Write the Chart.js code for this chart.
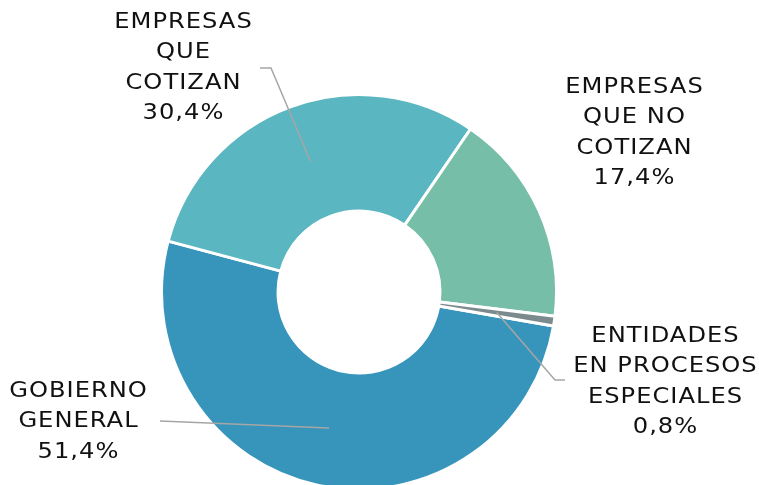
<!DOCTYPE html>
<html>
<head>
<meta charset="utf-8">
<script src="https://cdn.jsdelivr.net/npm/chart.js@4/dist/chart.umd.min.js"></script>
<style>
  html, body { margin: 0; padding: 0; background: #fff; overflow: hidden; }
  #wrap { position: relative; width: 759px; height: 491px; }
</style>
</head>
<body>
<div id="wrap"><canvas id="chart"></canvas></div>
<script>
// Data
const categories = ['GOBIERNO GENERAL', 'EMPRESAS QUE COTIZAN', 'EMPRESAS QUE NO COTIZAN', 'ENTIDADES EN PROCESOS ESPECIALES'];
const shares = [51.4, 30.4, 17.4, 0.8];
const labelLines = [
    ['GOBIERNO', 'GENERAL', '51,4%'],
    ['EMPRESAS', 'QUE', 'COTIZAN', '30,4%'],
    ['EMPRESAS', 'QUE NO', 'COTIZAN', '17,4%'],
    ['ENTIDADES', 'EN PROCESOS', 'ESPECIALES', '0,8%']
];
const colors = ['#3795bb', '#5ab6c0', '#76bea7', '#7b8b8d'];

// Label layout: text centre and leader line elbow (null = no leader line)
const labelLayout = [
    { x: 78, y: 391, line: [[160, 421]] },
    { x: 183, y: 22, line: [[260, 68], [271, 68]] },
    { x: 634, y: 87, line: null },
    { x: 665, y: 336, line: [[565, 380], [555, 380]] }
];

const FONT = '22px "DejaVu Sans"';
const LINE_H = 30.5;
const STRETCH = 1.1;

const outsideLabels = {
    id: 'outsideLabels',
    afterDraw(chart) {
        const ctx = chart.ctx;
        const arcs = chart.getDatasetMeta(0).data;
        ctx.save();
        // leader lines
        ctx.strokeStyle = '#a6a6a6';
        ctx.lineWidth = 1.5;
        arcs.forEach((arc, i) => {
            const lay = labelLayout[i];
            if (!lay.line) return;
            const p = arc.tooltipPosition();
            ctx.beginPath();
            ctx.moveTo(lay.line[0][0], lay.line[0][1]);
            for (let k = 1; k < lay.line.length; k++) ctx.lineTo(lay.line[k][0], lay.line[k][1]);
            ctx.lineTo(p.x, p.y);
            ctx.stroke();
        });
        // text, slightly widened to get closer to the original's wide face
        ctx.fillStyle = '#111';
        ctx.font = FONT;
        ctx.letterSpacing = '0.9px';
        ctx.textAlign = 'center';
        ctx.textBaseline = 'middle';
        labelLines.forEach((lines, i) => {
            const lay = labelLayout[i];
            lines.forEach((t, k) => {
                ctx.save();
                ctx.translate(lay.x + 0.5, lay.y + k * LINE_H);
                ctx.scale(STRETCH, 1);
                ctx.fillText(t, 0, 0);
                ctx.restore();
            });
        });
        ctx.restore();
    }
};

const ctx = document.getElementById('chart').getContext('2d');
const chart = new Chart(ctx, {
    type: 'doughnut',
    data: {
        labels: categories,
        datasets: [{
            data: shares,
            backgroundColor: colors,
            borderColor: '#ffffff',
            borderWidth: 3
        }]
    },
    options: {
        responsive: true,
        maintainAspectRatio: false,
        animation: false,
        rotation: 99.9,
        cutout: '41%',
        layout: { padding: { left: 160, right: 201, top: 93, bottom: 0 } },
        plugins: {
            legend: { display: false },
            tooltip: { enabled: false }
        }
    },
    plugins: [outsideLabels]
});
</script>
</body>
</html>
